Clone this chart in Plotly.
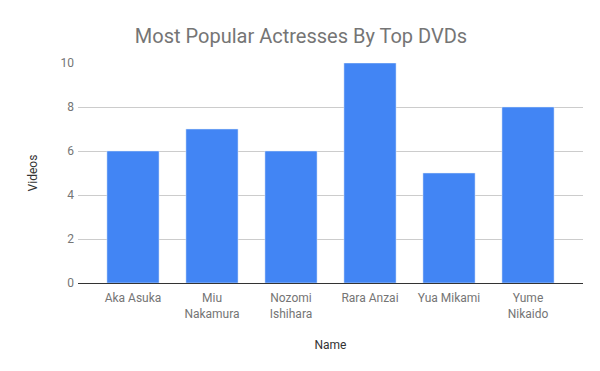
import plotly.graph_objects as go

names = ["Aka Asuka", "Miu<br>Nakamura", "Nozomi<br>Ishihara", "Rara Anzai", "Yua Mikami", "Yume<br>Nikaido"]
videos = [6, 7, 6, 10, 5, 8]
y_ticks = [0, 2, 4, 6, 8, 10]

fig = go.Figure(go.Bar(x=names, y=videos, marker_color="#4285F4", width=0.66))

fig.update_layout(
    width=600, height=371,
    margin=dict(l=70, r=25, t=55, b=96),
    paper_bgcolor="white", plot_bgcolor="white",
    font=dict(family="Roboto", size=12, color="#616161"),
    title=dict(text="Most Popular Actresses By Top DVDs", x=293/600, xanchor="center",
               y=1 - 28/371, yanchor="middle",
               font=dict(family="Roboto", size=20, color="#757575")),
    showlegend=False,
    bargap=0.34,
)
fig.update_xaxes(
    range=[-0.696, 5.696], showgrid=False, ticks="", showline=False,
    automargin=False, ticklabelstandoff=6,
    title=dict(text="Name", standoff=21, font=dict(size=12, color="#333333")),
    tickfont=dict(size=12, color="#757575"),
)
fig.update_yaxes(
    range=[0, 10], tickvals=y_ticks, showgrid=True, gridcolor="#cccccc",
    zeroline=True, zerolinecolor="#333333", zerolinewidth=1,
    ticks="", showline=False, automargin=False, ticklabelstandoff=3,
    title=dict(text="Videos", standoff=20, font=dict(size=12, color="#333333")),
    tickfont=dict(size=12, color="#757575"),
)
fig.write_html("out.html")
